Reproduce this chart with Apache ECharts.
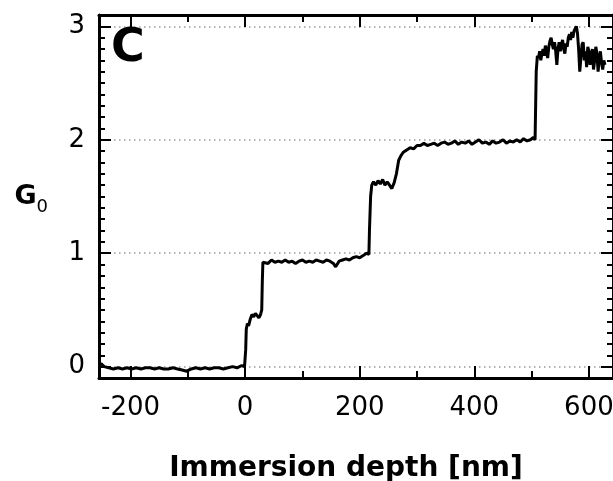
<!DOCTYPE html>
<html>
<head>
<meta charset="utf-8">
<script src="https://cdn.jsdelivr.net/npm/echarts@6/dist/echarts.min.js"></script>
<style>
  html, body { margin: 0; padding: 0; background: #fff; }
  #chart { width: 613px; height: 481px; }
</style>
</head>
<body>
<div id="chart"></div>
<script>
// Conductance trace vs immersion depth

// baseline before contact
const baseDepth = [-252, -246, -238, -230, -222, -214, -206, -198, -190, -182, -174, -166, -158, -150, -142, -134, -126, -118, -110, -102, -94, -86, -78, -70, -62, -54, -46, -38, -30, -22, -14, -6, -1];
const baseG = [0.03, 0.0, -0.01, -0.02, -0.01, -0.02, -0.01, -0.02, -0.01, -0.02, -0.01, -0.01, -0.02, -0.01, -0.02, -0.02, -0.01, -0.02, -0.03, -0.04, -0.02, -0.01, -0.02, -0.01, -0.02, -0.01, -0.01, -0.02, -0.01, 0.0, -0.01, 0.01, 0.0];

// first step and 1 G0 plateau
const step1Depth = [1, 2, 4, 6, 9, 12, 15, 18, 21, 24, 27, 29, 30, 31, 34, 40, 46, 52, 58, 64, 70, 76, 82, 88, 94, 100, 106, 112, 118, 124, 130, 136, 142, 148, 154, 158, 164, 170, 176, 182, 188, 194, 200, 206, 212, 216];
const step1G = [0.15, 0.33, 0.38, 0.36, 0.42, 0.46, 0.44, 0.47, 0.45, 0.43, 0.46, 0.5, 0.75, 0.92, 0.93, 0.91, 0.94, 0.92, 0.93, 0.92, 0.94, 0.92, 0.93, 0.91, 0.93, 0.94, 0.92, 0.93, 0.92, 0.94, 0.93, 0.92, 0.94, 0.93, 0.91, 0.88, 0.93, 0.94, 0.95, 0.94, 0.96, 0.97, 0.96, 0.98, 1.0, 0.99];

// second step and 2 G0 plateau
const step2Depth = [217, 219, 221, 224, 228, 232, 236, 240, 244, 248, 252, 256, 260, 264, 268, 272, 276, 282, 288, 294, 300, 306, 312, 318, 324, 330, 336, 342, 348, 354, 360, 366, 372, 378, 384, 390, 396, 402, 408, 414, 420, 426, 432, 438, 444, 450, 456, 462, 468, 474, 480, 486, 492, 498, 503];
const step2G = [1.2, 1.5, 1.6, 1.63, 1.6, 1.64, 1.61, 1.65, 1.6, 1.63, 1.6, 1.57, 1.62, 1.7, 1.82, 1.86, 1.89, 1.91, 1.93, 1.92, 1.95, 1.95, 1.97, 1.95, 1.96, 1.97, 1.95, 1.97, 1.98, 1.96, 1.97, 1.99, 1.96, 1.98, 1.97, 1.99, 1.96, 1.98, 2.0, 1.97, 1.98, 1.96, 1.99, 1.97, 1.98, 2.0, 1.97, 1.99, 1.98, 2.0, 1.98, 2.01, 1.99, 2.0, 2.02];

// third step, noisy ~2.8 G0 region
const step3Depth = [506, 507, 508, 510, 512, 514, 516, 518, 520, 522, 524, 526, 528, 530, 532, 534, 536, 538, 540, 542, 544, 546, 548, 550, 552, 554, 556, 558, 560, 562, 564, 566, 568, 570, 572, 574, 576, 578, 580, 582, 584, 586, 588, 590, 592, 594, 596, 598, 600, 602, 604, 606, 608, 610, 612, 614, 616, 618, 620, 622, 624, 626, 628];
const step3G = [2.0, 2.3, 2.6, 2.74, 2.72, 2.78, 2.7, 2.76, 2.8, 2.74, 2.83, 2.78, 2.72, 2.82, 2.87, 2.9, 2.84, 2.8, 2.86, 2.78, 2.66, 2.8, 2.86, 2.78, 2.84, 2.88, 2.8, 2.76, 2.85, 2.82, 2.9, 2.93, 2.88, 2.95, 2.9, 2.96, 2.98, 3.0, 2.94, 2.8, 2.6, 2.72, 2.84, 2.86, 2.7, 2.78, 2.64, 2.82, 2.78, 2.66, 2.74, 2.8, 2.62, 2.7, 2.82, 2.76, 2.6, 2.72, 2.78, 2.68, 2.62, 2.7, 2.66];

// ticks
const xLabelValues = [-200, 0, 200, 400, 600];
const xMinorValues = [-100, 100, 300, 500];
const yLabelValues = [0, 1, 2, 3];
const yMinorValues = [0.1, 0.2, 0.3, 0.4, 0.5, 0.6, 0.7, 0.8, 0.9, 1.1, 1.2, 1.3, 1.4, 1.5, 1.6, 1.7, 1.8, 1.9, 2.1, 2.2, 2.3, 2.4, 2.5, 2.6, 2.7, 2.8, 2.9, 3.0];

const depth = [...baseDepth, ...step1Depth, ...step2Depth, ...step3Depth];
const conductance = [...baseG, ...step1G, ...step2G, ...step3G];
const traceData = depth.map((d, i) => [d, conductance[i]]);

const FONT = 'DejaVu Sans';
const X_MIN = -255, X_MAX = 642;
const Y_MIN = -0.1, Y_MAX = 3.1;

function xAxisDef(position, values, len, withLine, withLabel) {
  return {
    type: 'value', position, min: X_MIN, max: X_MAX,
    axisLine: { show: withLine, onZero: false, lineStyle: { color: '#000', width: 3 } },
    axisTick: { show: true, inside: true, length: len, customValues: values, lineStyle: { color: '#000', width: 2 } },
    axisLabel: withLabel
      ? { show: true, customValues: values, margin: 17, color: '#000', fontSize: 26, fontFamily: FONT }
      : { show: false },
    splitLine: { show: false }
  };
}

function yAxisDef(position, values, len, withLine, withLabel, withSplit) {
  return {
    type: 'value', position, min: Y_MIN, max: Y_MAX,
    axisLine: { show: withLine, onZero: false, lineStyle: { color: '#000', width: 3 } },
    axisTick: { show: true, inside: true, length: len, customValues: values, lineStyle: { color: '#000', width: 2 } },
    axisLabel: withLabel
      ? { show: true, customValues: values, margin: 14, color: '#000', fontSize: 26, fontFamily: FONT }
      : { show: false },
    splitLine: withSplit
      ? { show: true, lineStyle: { color: '#9a9a9a', width: 1.5, type: [1.5, 3.5] } }
      : { show: false }
  };
}

const chart = echarts.init(document.getElementById('chart'));

const xBottom = xAxisDef('bottom', xLabelValues, 12, true, true);
xBottom.name = 'Immersion depth [nm]';
xBottom.nameLocation = 'middle';
xBottom.nameGap = 77;
xBottom.nameTextStyle = { color: '#000', fontSize: 28, fontWeight: 'bold', fontFamily: FONT, padding: [0, 20, 0, 0] };

const yLeft = yAxisDef('left', yLabelValues, 12, true, true, true);
yLeft.name = '{g|G}{s|0}';
yLeft.nameLocation = 'middle';
yLeft.nameRotate = 0;
yLeft.nameGap = 51;
yLeft.nameTextStyle = {
  rich: {
    g: { fontSize: 27, fontWeight: 'bold', fontFamily: FONT, color: '#000', lineHeight: 40 },
    s: { fontSize: 18, fontFamily: FONT, color: '#000', lineHeight: 18, verticalAlign: 'bottom' }
  }
};

chart.setOption({
  animation: false,
  backgroundColor: '#fff',
  title: {
    text: 'C', left: 111, top: 26, padding: 0,
    textStyle: { color: '#000', fontSize: 46, fontWeight: 'bold', fontFamily: FONT }
  },
  grid: { left: 99, right: 0, top: 15, bottom: 103, outerBoundsMode: 'none' },
  xAxis: [
    xBottom,
    xAxisDef('bottom', xMinorValues, 7, false, false),
    xAxisDef('top', xLabelValues, 12, true, false),
    xAxisDef('top', xMinorValues, 7, false, false)
  ],
  yAxis: [
    yLeft,
    yAxisDef('left', yMinorValues, 6, false, false, false),
    yAxisDef('right', yLabelValues, 12, true, false, false),
    yAxisDef('right', yMinorValues, 6, false, false, false)
  ],
  series: [{
    type: 'line',
    xAxisIndex: 0, yAxisIndex: 0,
    data: traceData,
    showSymbol: false,
    lineStyle: { color: '#000', width: 3 },
    z: 5
  }]
});

window.addEventListener('resize', () => chart.resize());
</script>
</body>
</html>
